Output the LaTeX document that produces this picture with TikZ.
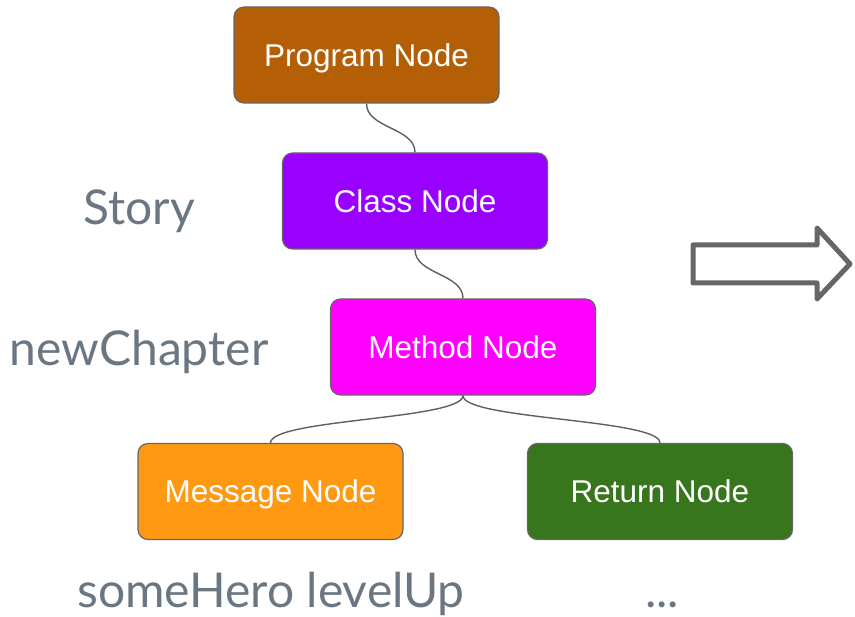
\documentclass[tikz,border=0pt]{standalone}
\usepackage{fontspec}
\setmainfont{Liberation Sans}
\newfontfamily\latofont{Lato}
\definecolor{progcol}{HTML}{B45F06}
\definecolor{classcol}{HTML}{9900FF}
\definecolor{methodcol}{HTML}{FF00FF}
\definecolor{msgcol}{HTML}{FF9912}
\definecolor{retcol}{HTML}{38761D}
\definecolor{edgegray}{HTML}{666666}
\definecolor{linkgray}{HTML}{5F5F5F}
\definecolor{labelgray}{HTML}{6A7681}
\begin{document}
\begin{tikzpicture}[x=1pt,y=-1pt,
  treenode/.style={draw=edgegray, line width=1.2pt, rounded corners=10pt,
    minimum width=265pt, minimum height=96pt, text=white,
    font=\fontsize{31.5}{36}\selectfont, text height=23pt, text depth=0pt, inner sep=0pt},
  link/.style={draw=linkgray, line width=1.4pt},
  codelabel/.style={text=labelgray, font=\latofont\fontsize{48}{56}\selectfont, anchor=base, inner sep=0pt},
  bigarrow/.style={draw=edgegray, line width=5pt, line join=round}]
\useasboundingbox (0,0) rectangle (855,617);

% tree of nodes
\node[treenode, fill=progcol]   (prog)   at (366.5,55)  {Program Node};
\node[treenode, fill=classcol]  (cls)    at (415,201)   {Class Node};
\node[treenode, fill=methodcol] (meth)   at (463,347)   {Method Node};
\node[treenode, fill=msgcol]    (msg)    at (270.5,491.5) {Message Node};
\node[treenode, fill=retcol]    (ret)    at (660,491.5) {Return Node};

% curved connectors
\draw[link] (prog.south) .. controls +(0,25) and +(0,-25) .. (cls.north);
\draw[link] (cls.south) .. controls +(0,25) and +(0,-25) .. (meth.north);
\draw[link] (meth.south) .. controls +(0,24) and +(0,-24) .. (msg.north);
\draw[link] (meth.south) .. controls +(0,24) and +(0,-24) .. (ret.north);

% code labels
\node[codelabel] (story) at (139,225) {Story};
\node[codelabel] (chap)  at (139,366) {newChapter};
\node[codelabel] (hero)  at (271,608) {someHero levelUp};
\node[codelabel] (dots)  at (662,608) {...};

% outlined block arrow
\draw[bigarrow] (693,245) -- (817,245) -- (817,228) -- (850,264)
  -- (817,299) -- (817,283) -- (693,283) -- cycle;
\end{tikzpicture}
\end{document}
